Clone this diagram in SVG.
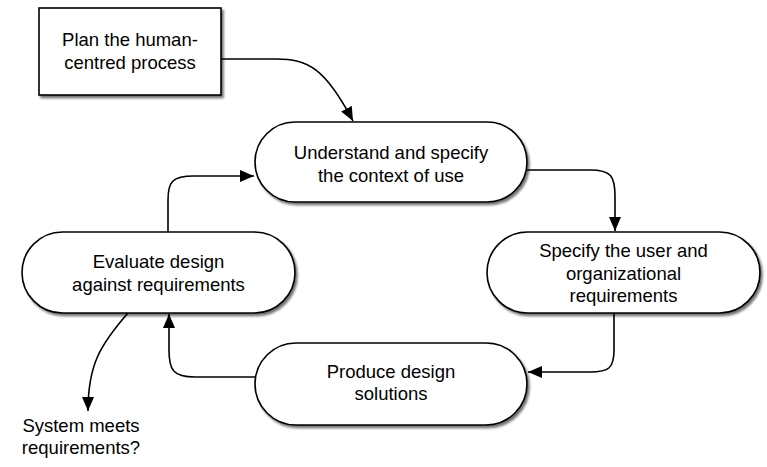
<svg xmlns="http://www.w3.org/2000/svg" width="767" height="467" viewBox="0 0 767 467">
<defs>
<filter id="sh" x="-10%" y="-10%" width="125%" height="130%">
<feDropShadow dx="2" dy="2.5" stdDeviation="1.3" flood-color="#000" flood-opacity="0.55"/>
</filter>
<marker id="ah" markerUnits="userSpaceOnUse" markerWidth="15" markerHeight="13" viewBox="0 0 15 13" refX="14" refY="6.5" orient="auto">
<path d="M0,0.5 L14,6.5 L0,12.5 z" fill="#000"/>
</marker>
<style>
.n{fill:#fff;stroke:#000;stroke-width:1.6;filter:url(#sh)}
.t{font-family:"Liberation Sans",Arial,Helvetica,sans-serif;font-size:18.5px;fill:#000;text-anchor:middle}
.c{fill:none;stroke:#000;stroke-width:1.6;marker-end:url(#ah)}
</style>
</defs>
<rect width="767" height="467" fill="#fff"/>
<g id="connectors">
<path class="c" d="M221,59 L276,59 C308,59 325,68 353,121"/>
<path class="c" d="M168,232 V200 C168,182 172,176 194,176 H254"/>
<path class="c" d="M527,170 H590 C611,170 615,176 615,196 V231"/>
<path class="c" d="M614,313 V350 C614,368 609,372 590,372 H528"/>
<path class="c" d="M256,377 H195 C173,377 169,370 169,350 V314"/>
<path class="c" d="M128,313 C100,345 88,365 88,411"/>
</g>
<g id="plan">
<rect class="n" x="39" y="8" width="182" height="87"/>
<text class="t" x="130" y="46">Plan the human-</text>
<text class="t" x="130" y="69">centred process</text>
</g>
<g id="understand">
<rect class="n" x="255" y="122" width="272" height="80" rx="40"/>
<text class="t" x="391" y="159">Understand and specify</text>
<text class="t" x="391" y="182">the context of use</text>
</g>
<g id="specify">
<rect class="n" x="487" y="232" width="273" height="81" rx="40.5"/>
<text class="t" x="623.5" y="257">Specify the user and</text>
<text class="t" x="623.5" y="280">organizational</text>
<text class="t" x="623.5" y="302">requirements</text>
</g>
<g id="produce">
<rect class="n" x="255" y="343" width="272" height="82" rx="41"/>
<text class="t" x="391" y="378">Produce design</text>
<text class="t" x="391" y="400">solutions</text>
</g>
<g id="evaluate">
<rect class="n" x="22" y="232" width="273" height="81" rx="40.5"/>
<text class="t" x="158.5" y="268">Evaluate design</text>
<text class="t" x="158.5" y="291">against requirements</text>
</g>
<g id="system">
<text class="t" x="81" y="432">System meets</text>
<text class="t" x="81" y="454">requirements?</text>
</g>
</svg>
